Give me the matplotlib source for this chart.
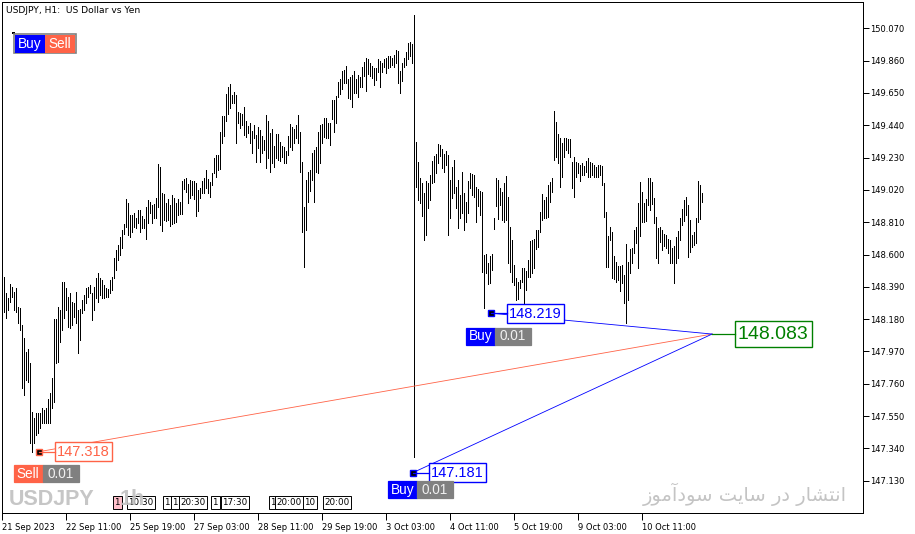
import numpy as np
import matplotlib
matplotlib.use("Agg")
import matplotlib.pyplot as plt
from matplotlib.patches import Rectangle
from matplotlib.transforms import IdentityTransform

plt.rcParams['font.family'] = ['DejaVu Sans']

# USDJPY H1 bars (high / low), first bar 21 Sep 2023 04:00
highs = [
    148.454, 148.350, 148.317, 148.408, 148.389, 148.356, 148.382, 148.259, 148.252, 148.142,
    148.057, 147.966, 147.986, 147.894, 147.576, 147.537, 147.569, 147.569, 147.569, 147.602,
    147.589, 147.602, 147.660, 147.700, 147.797, 148.181, 148.181, 148.259, 148.239, 148.421,
    148.421, 148.382, 148.324, 148.350, 148.291, 148.285, 148.356, 148.239, 148.246, 148.304,
    148.337, 148.382, 148.389, 148.402, 148.350, 148.389, 148.447, 148.480, 148.447, 148.434,
    148.402, 148.382, 148.376, 148.434, 148.454, 148.577, 148.629, 148.661,
    148.715, 148.759, 148.798, 148.961, 148.935, 148.857, 148.857, 148.870, 148.837, 148.889,
    148.889, 148.850, 148.831, 148.909, 148.954, 148.941, 148.922, 148.928, 148.967, 149.188,
    149.169, 149.000, 148.993, 148.935, 148.961, 148.922, 148.987, 148.967, 148.935, 148.961,
    148.941, 149.078, 149.091, 149.097, 149.058, 149.084, 149.078, 149.078, 149.065, 149.019,
    149.032, 149.078, 149.097, 149.149, 149.091, 149.071, 149.130, 149.227, 149.247, 149.247,
    149.396, 149.500, 149.500, 149.643, 149.689, 149.708, 149.637, 149.656, 149.637,
    149.526, 149.520, 149.513, 149.559, 149.468, 149.435, 149.455, 149.403, 149.442, 149.377,
    149.429, 149.409, 149.370, 149.344, 149.507, 149.468, 149.390, 149.416, 149.305, 149.383,
    149.383, 149.331, 149.305, 149.299, 149.273, 149.370, 149.448, 149.429, 149.416, 149.442,
    149.507, 149.396, 149.201, 148.909, 149.084, 149.136, 149.149, 149.260, 149.279, 149.299,
    149.396, 149.442, 149.448, 149.487, 149.487, 149.455, 149.455, 149.604, 149.604, 149.630,
    149.721, 149.741, 149.792, 149.799, 149.825, 149.741, 149.754, 149.766, 149.792,
    149.741, 149.766, 149.754, 149.818, 149.851, 149.877, 149.870, 149.844, 149.825, 149.812,
    149.812, 149.870, 149.857, 149.844, 149.870, 149.877, 149.890, 149.890, 149.877, 149.896,
    149.929, 149.922, 149.792, 149.844, 149.877, 149.916, 149.974, 149.981, 149.968, 150.156,
    149.331, 149.201, 149.097, 149.065, 149.000, 149.078, 149.065, 149.117, 149.208, 149.240,
    149.253, 149.318, 149.312, 149.286, 149.253, 149.273, 149.247, 149.084, 149.169, 149.214,
    149.039, 149.084, 148.987, 149.136, 149.000, 148.941, 149.078, 149.130, 149.123,
    149.117, 149.039, 149.026, 149.012, 149.006, 148.597, 148.603, 148.545, 148.590, 148.603,
    148.837, 149.097, 149.084, 149.032, 149.006, 149.065, 149.110, 148.974, 148.779, 148.694,
    148.532, 148.447, 148.421, 148.434, 148.512, 148.512, 148.492, 148.564, 148.688, 148.694,
    148.701, 148.759, 148.759, 148.876, 148.993, 148.954, 148.974, 149.052, 149.071, 149.097,
    149.533, 149.461, 149.383, 149.357, 149.324, 149.357, 149.357, 149.351, 149.351, 149.201,
    149.234, 149.201, 149.195, 149.182, 149.195, 149.175, 149.208, 149.227, 149.201,
    149.195, 149.182, 149.169, 149.182, 149.182, 149.175, 149.065, 148.876, 148.720, 148.779,
    148.746, 148.590, 148.551, 148.525, 148.525, 148.532, 148.467, 148.668, 148.551, 148.636,
    148.642, 148.759, 148.779, 148.935, 149.071, 149.006, 148.935, 148.961, 149.097, 149.097,
    149.071, 148.967, 148.844, 148.772, 148.779, 148.759, 148.733, 148.727, 148.701, 148.694,
    148.642, 148.655, 148.714, 148.753, 148.837, 148.896, 148.954, 148.974, 148.922, 148.824,
    148.727, 148.746, 148.837, 149.078, 149.052, 149.000,
]
lows = [
    148.226, 148.187, 148.239, 148.291, 148.324, 148.239, 148.226, 148.155, 148.109, 147.732,
    147.686, 147.784, 147.771, 147.374, 147.316, 147.374, 147.427, 147.440, 147.472, 147.504,
    147.504, 147.504, 147.504, 147.504, 147.602, 147.641, 147.894, 147.901, 148.031, 148.109,
    148.187, 148.239, 148.129, 148.122, 148.142, 148.194, 148.155, 147.960, 148.044, 148.220,
    148.239, 148.285, 148.324, 148.350, 148.174, 148.239, 148.317, 148.291, 148.337, 148.317,
    148.317, 148.324, 148.324, 148.350, 148.369, 148.447, 148.499, 148.564,
    148.597, 148.642, 148.733, 148.779, 148.727, 148.714, 148.746, 148.779, 148.772, 148.804,
    148.746, 148.772, 148.772, 148.701, 148.804, 148.870, 148.804, 148.837, 148.837, 148.909,
    148.792, 148.753, 148.824, 148.818, 148.824, 148.785, 148.798, 148.804, 148.811, 148.857,
    148.863, 148.863, 149.026, 149.006, 148.935, 148.967, 148.987, 148.961, 148.850, 148.883,
    148.967, 149.000, 149.000, 149.032, 149.000, 148.974, 149.052, 149.130, 149.104, 149.149,
    149.156, 149.324, 149.370, 149.468, 149.513, 149.552, 149.585, 149.585, 149.324,
    149.455, 149.422, 149.442, 149.377, 149.364, 149.390, 149.324, 149.260, 149.357, 149.201,
    149.292, 149.201, 149.260, 149.279, 149.162, 149.227, 149.136, 149.195, 149.169, 149.227,
    149.214, 149.208, 149.234, 149.195, 149.195, 149.247, 149.299, 149.279, 149.324, 149.357,
    149.324, 149.136, 148.746, 148.519, 148.759, 148.941, 149.012, 149.084, 148.941, 149.136,
    149.130, 149.195, 149.324, 149.364, 149.357, 149.357, 149.312, 149.480, 149.396, 149.455,
    149.624, 149.643, 149.676, 149.715, 149.715, 149.617, 149.611, 149.559, 149.650,
    149.650, 149.624, 149.689, 149.689, 149.760, 149.663, 149.773, 149.760, 149.747, 149.701,
    149.734, 149.786, 149.689, 149.786, 149.818, 149.779, 149.812, 149.818, 149.831, 149.818,
    149.844, 149.715, 149.650, 149.727, 149.818, 149.831, 149.870, 149.890, 149.844, 147.284,
    149.039, 148.954, 148.935, 148.850, 148.694, 148.727, 148.902, 148.954, 149.065, 149.071,
    149.130, 149.195, 149.240, 149.162, 149.136, 149.182, 148.727, 148.837, 148.967, 149.000,
    148.902, 148.772, 148.837, 148.870, 148.759, 148.811, 148.870, 149.032, 148.987,
    148.974, 148.811, 148.915, 148.857, 148.486, 148.252, 148.480, 148.408, 148.415, 148.499,
    148.766, 148.915, 148.831, 148.922, 148.824, 148.811, 148.824, 148.545, 148.486, 148.421,
    148.402, 148.304, 148.311, 148.382, 148.421, 148.285, 148.369, 148.454, 148.454, 148.480,
    148.512, 148.636, 148.649, 148.746, 148.824, 148.837, 148.837, 148.844, 148.941, 149.006,
    149.214, 149.234, 149.195, 149.039, 149.104, 149.234, 149.279, 149.260, 149.234, 149.032,
    148.974, 149.104, 149.130, 149.078, 149.117, 149.117, 149.136, 149.104, 149.104,
    149.117, 149.104, 149.104, 149.104, 149.117, 149.052, 148.844, 148.519, 148.519, 148.694,
    148.447, 148.441, 148.421, 148.434, 148.363, 148.415, 148.285, 148.155, 148.304, 148.480,
    148.545, 148.610, 148.675, 148.512, 148.720, 148.811, 148.811, 148.818, 148.922, 148.889,
    148.928, 148.804, 148.577, 148.545, 148.681, 148.629, 148.655, 148.642, 148.610, 148.545,
    148.545, 148.415, 148.545, 148.577, 148.694, 148.792, 148.818, 148.857, 148.584, 148.616,
    148.649, 148.662, 148.675, 148.811, 148.831, 148.941,
]

price_ticks = [147.130, 147.340, 147.550, 147.760, 147.970, 148.180, 148.390,
               148.600, 148.810, 149.020, 149.230, 149.440, 149.650, 149.860, 150.070]
time_tick_bars = [-1, 31, 63, 95, 127, 159, 191, 223, 255, 287, 319]
time_tick_labels = ["21 Sep 2023", "22 Sep 11:00", "25 Sep 19:00", "27 Sep 03:00",
                    "28 Sep 11:00", "29 Sep 19:00", "3 Oct 03:00", "4 Oct 11:00",
                    "5 Oct 19:00", "9 Oct 03:00", "10 Oct 11:00"]

# open positions
trade_bars = [17.1, 204.1, 243.1]
trade_prices = [147.318, 147.181, 148.219]
trade_types = ["Sell", "Buy", "Buy"]
trade_lots = ["0.01", "0.01", "0.01"]
current_bar = 353.9
current_price = 148.083

# time tags along the bottom
tag_bars = [55, 62, 80, 84, 88, 104, 109, 133, 136, 150, 160]
tag_texts = ["1", "10:30", "1", "1", "20:30", "1", "17:30", "1", "20:00", "10", "20:00"]

W, H = 915, 534
SELL_C = "#ff6347"
BUY_C = "#0000ff"
LOT_C = "#808080"
label_dy = [13, 8, 14.5]

fig = plt.figure(figsize=(W / 100, H / 100), dpi=100)
ax = fig.add_axes([2.3 / W, 1 - 513.3 / H, 860.4 / W, 510.8 / H])
x = np.arange(len(highs))
ax.vlines(x, lows, highs, colors="black", linewidth=0.72, antialiased=False)

ax.set_xlim(-1.0, 429.2)
ax.set_ylim(146.918, 150.238)
for s in ax.spines.values():
    s.set_linewidth(0.72)
    s.set_color("black")

ax.yaxis.tick_right()
ax.set_yticks(price_ticks)
ax.set_yticklabels(["%.3f" % v for v in price_ticks])
ax.tick_params(axis="y", direction="out", length=4, width=0.72, pad=1.5, labelsize=6)
ax.set_xticks(time_tick_bars)
ax.set_xticklabels(time_tick_labels)
ax.tick_params(axis="x", direction="out", length=5, width=0.72, pad=2, labelsize=6)
for lbl in ax.get_xticklabels():
    lbl.set_ha("left")

# lines from each position to the current price
for b, p, t in zip(trade_bars, trade_prices, trade_types):
    c = SELL_C if t == "Sell" else BUY_C
    ax.plot([b, current_bar], [p, current_price], color=c, lw=0.6)

fig.canvas.draw()
idt = IdentityTransform()


def topix(b, p):
    X, Y = ax.transData.transform((b, p))
    return X, H - Y


def box(x0, y0, x1, y1, fc, ec, lw=0.9):
    fig.add_artist(Rectangle((x0, H - y1), x1 - x0, y1 - y0, transform=idt,
                             facecolor=fc, edgecolor=ec, linewidth=lw))


def txt(xp, yp, s, **kw):
    fig.text(xp, H - yp, s, transform=idt, **kw)


def hline(x0, x1, yp, c):
    fig.add_artist(plt.Line2D([x0, x1], [H - yp, H - yp], transform=idt, color=c, lw=0.9))


# chart header
txt(6.5, 10.5, "USDJPY, H1:  US Dollar vs Yen", fontsize=6.6, va="center")

# one-click trading panel
box(12.3, 31.7, 15, 34.3, "black", "black", 0)
box(14.3, 34.3, 75.7, 53.3, "none", "#808080", 1.2)
box(15, 35, 45, 52.6, BUY_C, BUY_C, 0)
box(45, 35, 75, 52.6, SELL_C, SELL_C, 0)
txt(30, 44, "Buy", color="white", fontsize=9.8, family="Liberation Sans", ha="center", va="center")
txt(60, 44, "Sell", color="white", fontsize=9.8, family="Liberation Sans", ha="center", va="center")

# time tags
for b, s in zip(tag_bars, tag_texts):
    X, _ = topix(b, price_ticks[0])
    fc = "#ffc0cb" if b == tag_bars[0] else "white"
    txt(X, 502.5, s, fontsize=6.3, va="center", ha="left",
        bbox=dict(boxstyle="square,pad=0.2", fc=fc, ec="black", lw=0.7))

# watermarks (drawn over the tags, as in the terminal)
txt(9, 505, "USDJPY", color="#c0c0c0", fontsize=15.5, fontweight="bold",
    family="Liberation Sans", va="baseline", alpha=0.9)
txt(120, 505, "1h", color="#c0c0c0", fontsize=15.5, fontweight="bold",
    family="Liberation Sans", va="baseline", alpha=0.9)
# "انتشار در سایت سودآموز" written with presentation forms in visual order
fa_text = ("\uFEAF\uFEEE\uFEE3\uFE81\uFEA9\uFEEE\uFEB3 \uFE96\uFEF3\uFE8E\uFEB3 "
           "\uFEAD\uFEA9 \uFEAD\uFE8E\uFEB8\uFE98\uFEE7\uFE8D")
txt(847, 494, fa_text, color="#c4c4c4", fontsize=14, ha="right", va="center",
    family=["DejaVu Sans"])

# position markers and labels
for b, p, t, lot, dy in zip(trade_bars, trade_prices, trade_types, trade_lots, label_dy):
    c = SELL_C if t == "Sell" else BUY_C
    X, Y = topix(b, p)
    hline(X, X + 16, Y, c)
    box(X + 16, Y - 9.5, X + 73, Y + 9.5, "white", c, 1.0)
    txt(X + 44.5, Y + 0.5, "%.3f" % p, color=c, fontsize=10.5, family="Liberation Sans",
        ha="center", va="center")
    box(X - 3, Y - 3, X + 3, Y + 3, "black", c, 1.0)
    box(X - 25, Y + dy, X + 4.5, Y + dy + 17, c, c, 0.9)
    box(X + 4.5, Y + dy, X + 40, Y + dy + 17, LOT_C, LOT_C, 0.9)
    txt(X - 10.3, Y + dy + 8.8, t, color="white", fontsize=9.8, family="Liberation Sans",
        ha="center", va="center")
    txt(X + 22.2, Y + dy + 8.8, lot, color="#f0f0f0", fontsize=9.8, family="Liberation Sans",
        ha="center", va="center")

# current price tag
cx, cy = topix(current_bar, current_price)
hline(cx, cx + 22.5, cy, "#008000")
box(cx + 22.5, cy - 13, cx + 99.5, cy + 13, "white", "#008000", 1.0)
txt(cx + 61, cy + 0.5, "%.3f" % current_price, color="#008000", fontsize=14,
    family="Liberation Sans", ha="center", va="center")

fig.savefig("out.png", dpi=100, facecolor="white")
